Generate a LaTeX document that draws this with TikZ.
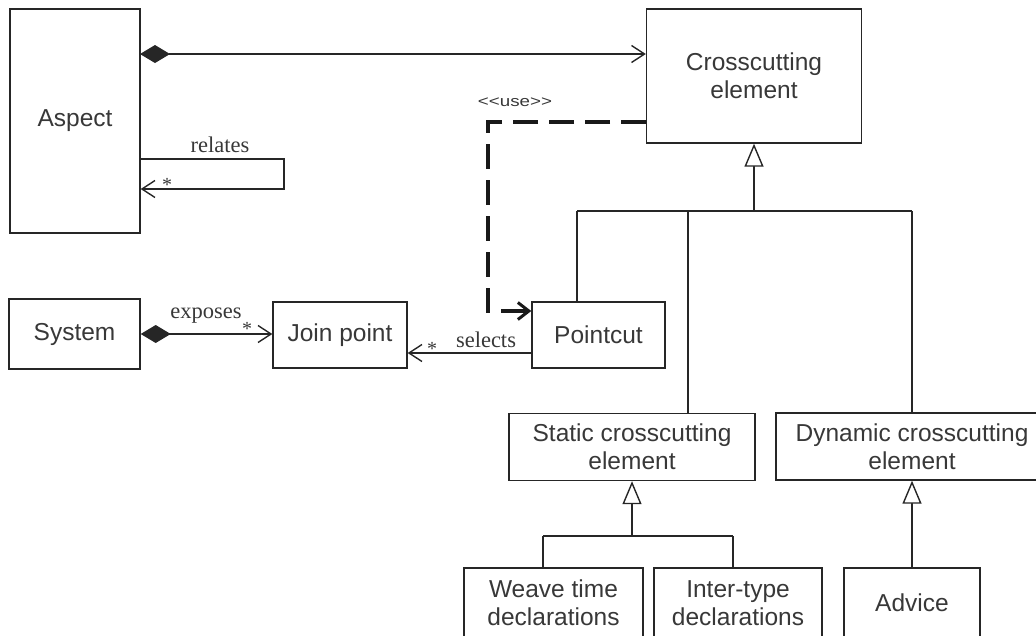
\documentclass[tikz,border=0pt]{standalone}
\usepackage{fontspec}
\setmainfont{Liberation Serif}
\setsansfont{Liberation Sans}
\usetikzlibrary{arrows.meta,calc}
\definecolor{ink}{HTML}{262626}
\definecolor{txt}{HTML}{383838}
\tikzset{
  box/.style={draw=ink, line width=1.4pt, inner sep=0pt, align=center,
    text=txt, font=\sffamily\fontsize{24.5}{28}\selectfont},
  conn/.style={draw=ink, line width=1.5pt},
  assoc/.style={conn, -{Straight Barb[length=13pt,width=17pt,line width=1.4pt]}},
  comp/.style={conn, {Diamond[length=30pt,width=18pt,fill=ink]}-{Straight Barb[length=13pt,width=17pt,line width=1.4pt]}},
  gen/.style={conn, line width=1.7pt, -{Triangle[open,length=23pt,width=19pt,fill=white,line width=1.4pt]}},
  usedep/.style={draw=black!90, line width=4pt, dash pattern=on 25pt off 11pt,
    -{Straight Barb[length=11pt,width=17pt,line width=3pt]}},
  lbl/.style={inner sep=0pt, text=txt, font=\fontsize{22.5}{24}\selectfont},
  mult/.style={inner sep=0pt, text=txt, font=\fontsize{20}{20}\selectfont},
}
\begin{document}
\begin{tikzpicture}[x=1pt, y=-1pt]
\useasboundingbox (0,0) rectangle (1036,635);
\clip (0,0) rectangle (1036,635);

% classes
\node[box, minimum width=130pt, minimum height=224pt] (aspect) at (75,121) {Aspect};
\node[box, minimum width=215pt, minimum height=134pt] (cross) at (754,76) {Crosscutting\\element};
\node[box, minimum width=131pt, minimum height=70pt] (system) at (74.5,334) {System};
\node[box, minimum width=134pt, minimum height=66pt] (joinpoint) at (340,335) {Join point};
\node[box, minimum width=133pt, minimum height=66pt] (pointcut) at (598.5,335) {Pointcut};
\node[box, minimum width=246pt, minimum height=67pt] (static) at (632,447) {Static crosscutting\\element};
\node[box, minimum width=272pt, minimum height=67pt] (dynamic) at (912,446.5) {Dynamic crosscutting\\element};
\node[box, minimum width=179pt, minimum height=70pt] (weave) at (553.5,603) {Weave time\\declarations};
\node[box, minimum width=168pt, minimum height=70pt] (inter) at (738,603) {Inter-type\\declarations};
\node[box, minimum width=136pt, minimum height=70pt] (advice) at (912,603) {Advice};

% Aspect composes crosscutting elements
\coordinate (a1) at (140,54);
\draw[comp] (a1) -- (a1 -| cross.west);

% self association "relates"
\coordinate (r1) at (140,159);
\coordinate (r2) at (284,189);
\draw[assoc] (r1) -| (r2) -- (r2 -| aspect.east);
\node[lbl] (relates) at (220,145) {relates};
\node[mult] (rstar) at (167,185) {*};

% System exposes join points
\draw[comp] (system.east) -- (system.east -| joinpoint.west);
\node[lbl] (exposes) at (206,316) {exposes};
\node[mult] (estar) at (247,329) {*};

% Pointcut selects join points
\coordinate (s1) at ($(pointcut.west)+(0,18)$);
\draw[assoc] (s1) -- (s1 -| joinpoint.east);
\node[lbl] (selects) at (486,340) {selects};
\node[mult] (sstar) at (432,349) {*};

% <<use>> dependency
\coordinate (u1) at (646,122);
\coordinate (u2) at (488,311);
\draw[usedep] (u1) -| (u2) -- (u2 -| pointcut.west);
\node[inner sep=0pt, text=txt, font=\sffamily\fontsize{15}{16}\selectfont, xscale=1.25] (use) at (515,102) {{<}{<}use{>}{>}};

% generalization of crosscutting elements
\coordinate (h0) at (754,211);
\coordinate (h1) at (577,211);
\coordinate (h2) at (688,211);
\coordinate (h3) at (912,211);
\draw[gen] (cross.south |- h0) -- (cross.south);
\draw[conn] (h1) -- (h3);
\draw[conn] (h1) -- (h1 |- pointcut.north);
\draw[conn] (h2) -- (h2 |- static.north);
\draw[conn] (h3) -- (h3 |- dynamic.north);

% generalization of static crosscutting elements
\coordinate (g0) at (632,536);
\coordinate (g1) at (543,536);
\coordinate (g2) at (733,536);
\draw[gen] (g0) -- (g0 |- static.south);
\draw[conn] (g1) -- (g2);
\draw[conn] (g1) -- (g1 |- weave.north);
\draw[conn] (g2) -- (g2 |- inter.north);

% generalization of dynamic crosscutting elements
\draw[gen] (advice.north) -- (advice.north |- dynamic.south);
\end{tikzpicture}
\end{document}
